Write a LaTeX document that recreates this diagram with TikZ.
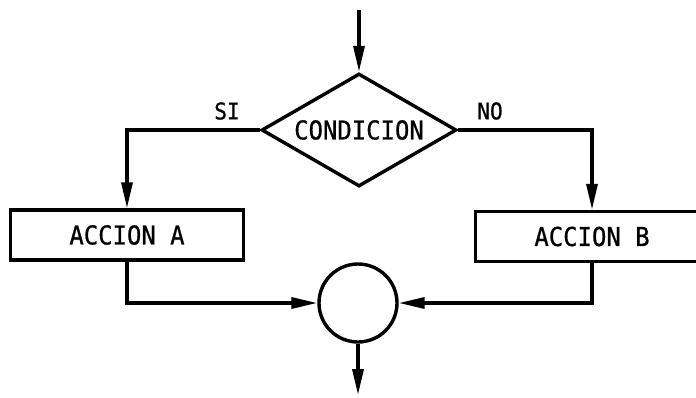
\documentclass[tikz,border=0pt]{standalone}
\usepackage{fontspec}
\usetikzlibrary{arrows.meta,shapes.geometric}
\newfontfamily\lblfont[FakeStretch=0.92,FakeBold=0.8]{DejaVu Sans Mono}
\begin{document}
\begin{tikzpicture}[x=1pt,y=-1pt,
  every node/.style={font=\lblfont\fontsize{26}{28}\selectfont},
  flow/.style={line width=3.4pt,-{Triangle[length=26pt,width=11pt]}},
  actionbox/.style={draw,line width=3.4pt,rectangle,inner sep=0pt,
    minimum width=233pt,minimum height=50pt},
  decision/.style={draw,line width=3.4pt,diamond,inner sep=0pt,shape aspect=1.7,
    minimum width=195pt,minimum height=113pt},
  junction/.style={draw,line width=3.4pt,circle,inner sep=0pt,minimum size=78pt},
  branch/.style={font=\lblfont\fontsize{23}{25}\selectfont}]
\useasboundingbox (0,0) rectangle (696,397);
\clip (0,0) rectangle (696,397);

% decision and the two actions
\node[decision] (cond) at (359,130) {CONDICION};
\node[actionbox] (accA) at (127,235) {ACCION A};
\node[actionbox] (accB) at (592,236.5) {ACCION B};
\node[junction] (join) at (358,303) {};

% entry and exit
\coordinate (entry) at (359,10);
\coordinate (exit) at (358,395);
\draw[flow] (entry) -- (cond.north);

% branches
\draw[flow] (cond.west) -| (accA.north);
\draw[flow] (cond.east) -| (accB.north);
\node[branch] (si) at (227,111) {SI};
\node[branch] (no) at (490,111) {NO};

% merge into the connector circle
\draw[flow] (accA.south) |- (join.west);
\draw[flow] (accB.south) |- (join.east);
\draw[flow] (join.south) -- (exit);
\end{tikzpicture}
\end{document}
